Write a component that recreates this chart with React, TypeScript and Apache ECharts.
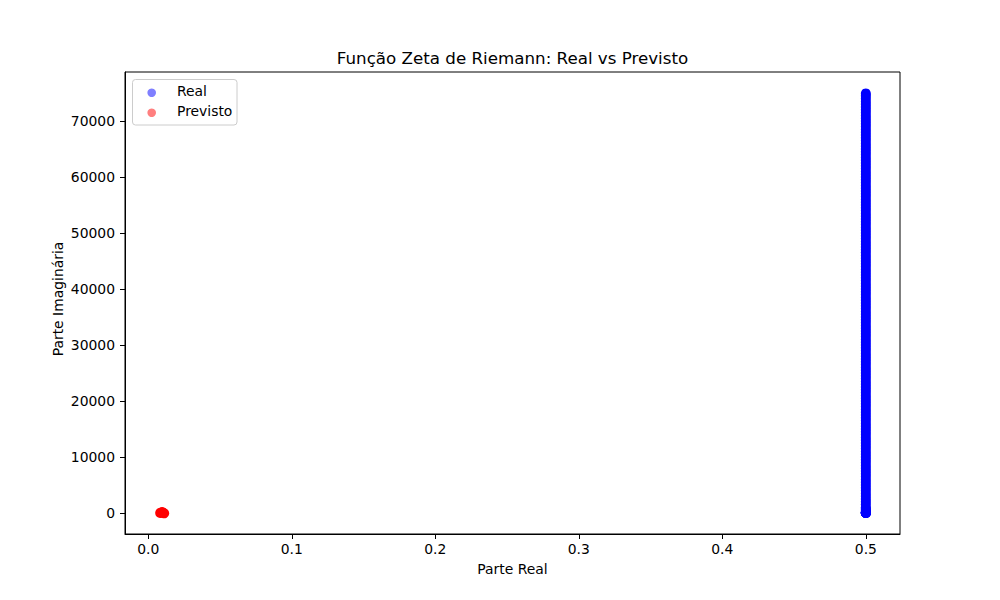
import React, { useEffect, useRef } from "react";
import * as echarts from "echarts";

const TITLE = "Função Zeta de Riemann: Real vs Previsto";
const X_LABEL = "Parte Real";
const Y_LABEL = "Parte Imaginária";
const SERIES_NAMES = ["Real", "Previsto"];

const xTicks = [0, 0.1, 0.2, 0.3, 0.4, 0.5];
const yTicks = [0, 10000, 20000, 30000, 40000, 50000, 60000, 70000];

// "Real" zeros: real part 0.5, imaginary parts spread from ~14 up to ~75000
const REAL_PART = 0.5;
const realImag = [
  14.13, 21.02, 25.01, 30.42, 32.94, 37.59, 40.92, 43.33, 48.01, 49.77,
  250, 500, 750, 1000, 1500, 2000, 2500, 3000, 3500, 4000, 4500, 5000,
  5500, 6000, 6500, 7000, 7500, 8000, 8500, 9000, 9500, 10000, 10500,
  11000, 11500, 12000, 12500, 13000, 13500, 14000, 14500, 15000, 15500,
  16000, 16500, 17000, 17500, 18000, 18500, 19000, 19500, 20000, 20500,
  21000, 21500, 22000, 22500, 23000, 23500, 24000, 24500, 25000, 25500,
  26000, 26500, 27000, 27500, 28000, 28500, 29000, 29500, 30000, 30500,
  31000, 31500, 32000, 32500, 33000, 33500, 34000, 34500, 35000, 35500,
  36000, 36500, 37000, 37500, 38000, 38500, 39000, 39500, 40000, 40500,
  41000, 41500, 42000, 42500, 43000, 43500, 44000, 44500, 45000, 45500,
  46000, 46500, 47000, 47500, 48000, 48500, 49000, 49500, 50000, 50500,
  51000, 51500, 52000, 52500, 53000, 53500, 54000, 54500, 55000, 55500,
  56000, 56500, 57000, 57500, 58000, 58500, 59000, 59500, 60000, 60500,
  61000, 61500, 62000, 62500, 63000, 63500, 64000, 64500, 65000, 65500,
  66000, 66500, 67000, 67500, 68000, 68500, 69000, 69500, 70000, 70500,
  71000, 71500, 72000, 72500, 73000, 73500, 74000, 74500, 74920,
];

// "Previsto" points: clustered near real part ~0.01, imaginary ~0
const previstoRe = [0.0083, 0.0091, 0.0097, 0.0104, 0.0111];
const previstoIm = [12, 95, 160, 40, -60];

const FONT = "DejaVu Sans";

export default function App() {
  const ref = useRef<HTMLDivElement>(null);

  useEffect(() => {
    if (!ref.current) return;
    const chart = echarts.init(ref.current, null, { renderer: "svg" });

    const realData = realImag.map((y) => [REAL_PART, y]);
    const prevData = previstoRe.map((x, i) => [x, previstoIm[i]]);

    const gridLeft = 125;
    const gridRight = 900;
    const gridTop = 72;
    const gridBottom = 534;

    chart.setOption({
      animation: false,
      backgroundColor: "#ffffff",
      textStyle: { fontFamily: FONT },
      grid: {
        left: gridLeft,
        top: gridTop,
        width: gridRight - gridLeft,
        height: gridBottom - gridTop,
        show: true,
        borderColor: "#000",
        borderWidth: 1,
        containLabel: false,
      },
      xAxis: {
        type: "value",
        min: -0.0162,
        max: 0.5238,
        name: X_LABEL,
        nameLocation: "middle",
        nameGap: 28,
        nameTextStyle: { color: "#000", fontSize: 13.9, fontFamily: FONT },
        axisLine: { show: true, onZero: false, lineStyle: { color: "#000", width: 1 } },
        axisTick: { show: true, length: 5, customValues: xTicks, lineStyle: { color: "#000" } },
        axisLabel: {
          customValues: xTicks,
          color: "#000",
          fontSize: 13.9,
          fontFamily: FONT,
          margin: 8,
          formatter: (v: number) => v.toFixed(1),
        },
        splitLine: { show: false },
      },
      yAxis: {
        type: "value",
        min: -3750,
        max: 78750,
        axisLine: { show: true, onZero: false, lineStyle: { color: "#000", width: 1 } },
        axisTick: { show: true, length: 5, customValues: yTicks, lineStyle: { color: "#000" } },
        axisLabel: {
          customValues: yTicks,
          color: "#000",
          fontSize: 13.9,
          fontFamily: FONT,
          margin: 10,
          formatter: (v: number) => String(v),
        },
        splitLine: { show: false },
      },
      series: [
        {
          name: SERIES_NAMES[0],
          type: "scatter",
          data: realData,
          symbol: "circle",
          symbolSize: 10,
          itemStyle: { color: "#0000ff", opacity: 1 },
        },
        {
          name: SERIES_NAMES[1],
          type: "scatter",
          data: prevData,
          symbol: "circle",
          symbolSize: 10,
          itemStyle: { color: "#ff0000", opacity: 1 },
        },
      ],
      graphic: [
        {
          type: "text",
          x: 512.5,
          y: 58,
          style: {
            text: TITLE,
            fontSize: 16.7,
            fontFamily: FONT,
            fill: "#000",
            textAlign: "center",
            textVerticalAlign: "middle",
          },
        },
        {
          type: "text",
          x: 58,
          y: 299,
          rotation: Math.PI / 2,
          style: {
            text: Y_LABEL,
            fontSize: 13.9,
            fontFamily: FONT,
            fill: "#000",
            textAlign: "center",
            textVerticalAlign: "middle",
          },
        },
        {
          type: "rect",
          shape: { x: 132.5, y: 79.5, width: 104.5, height: 45.5, r: 3 },
          style: { fill: "rgba(255,255,255,0.8)", stroke: "#cccccc", lineWidth: 1 },
          z: 10,
        },
        {
          type: "circle",
          shape: { cx: 151.7, cy: 92.7, r: 4.3 },
          style: { fill: "rgba(0,0,255,0.5)" },
          z: 11,
        },
        {
          type: "circle",
          shape: { cx: 151.7, cy: 112.7, r: 4.3 },
          style: { fill: "rgba(255,0,0,0.5)" },
          z: 11,
        },
        {
          type: "text",
          x: 177,
          y: 91,
          style: {
            text: SERIES_NAMES[0],
            fontSize: 13.9,
            fontFamily: FONT,
            fill: "#000",
            textAlign: "left",
            textVerticalAlign: "middle",
          },
          z: 11,
        },
        {
          type: "text",
          x: 177,
          y: 111,
          style: {
            text: SERIES_NAMES[1],
            fontSize: 13.9,
            fontFamily: FONT,
            fill: "#000",
            textAlign: "left",
            textVerticalAlign: "middle",
          },
          z: 11,
        },
      ],
    });

    return () => chart.dispose();
  }, []);

  return (
    <div
      ref={ref}
      style={{ position: "fixed", left: 0, top: 0, width: 1000, height: 600 }}
    />
  );
}
